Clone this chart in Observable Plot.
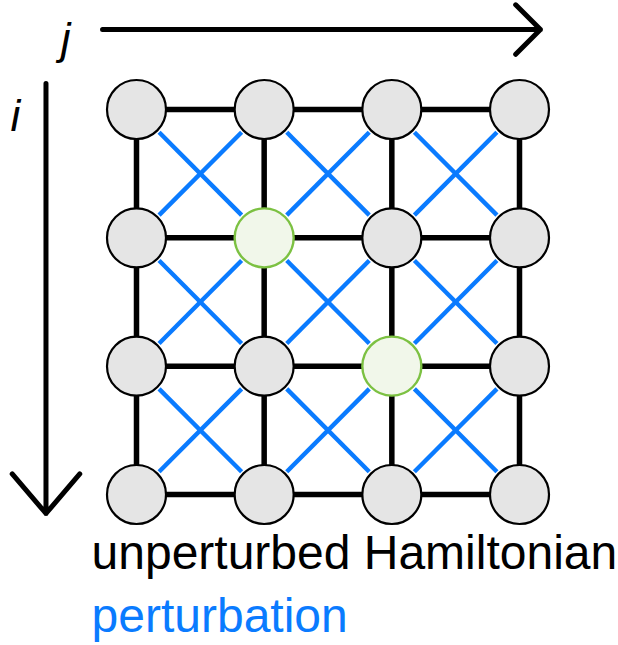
<!DOCTYPE html>
<html><head><meta charset="utf-8">
<script src="https://cdn.jsdelivr.net/npm/d3@7"></script>
<script src="https://cdn.jsdelivr.net/npm/@observablehq/plot@0.6"></script>
<style>body{margin:0;background:#fff} svg{display:block}</style>
</head><body><div id="chart"></div>
<script>
// Lattice sites (row index i, column index j)
const rows = [0, 1, 2, 3];
const cols = [0, 1, 2, 3];
// Highlighted sites [i, j]
const highlighted = [[1, 1], [2, 2]];
// Axis arrows (in lattice units)
const jArrow = [{x1: -0.266, y1: -0.623, x2: 3.164, y2: -0.623}];
const iArrow = [{x1: -0.709, y1: -0.203, x2: -0.709, y2: 3.148}];
const axisLabels = [{text: "j", x: -0.556, y: -0.429}, {text: "i", x: -0.948, y: 0.164}];
// Legend entries
const legendTexts = ["unperturbed Hamiltonian", "perturbation"];
const legendColors = ["#000000", "#0a7bff"];
const legendRows = [3.584, 4.075];
const legendCol = -0.352;

const isHi = (i, j) => highlighted.some(([a, b]) => a === i && b === j);
const nodes = [];
for (const i of rows) for (const j of cols) nodes.push({i, j, hi: isHi(i, j)});
const hEdges = [], diagEdges = [];
for (const i of rows) for (const j of cols) {
  if (j < cols.length - 1) hEdges.push({x1: j, y1: i, x2: j + 1, y2: i});
  if (i < rows.length - 1) hEdges.push({x1: j, y1: i, x2: j, y2: i + 1});
  if (i < rows.length - 1 && j < cols.length - 1) {
    diagEdges.push({x1: j, y1: i, x2: j + 1, y2: i + 1});
    diagEdges.push({x1: j + 1, y1: i, x2: j, y2: i + 1});
  }
}
const legend = legendTexts.map((t, k) => ({text: t, color: legendColors[k], y: legendRows[k], x: legendCol}));

const chart = Plot.plot({
  width: 618,
  height: 645,
  margin: 0,
  x: {domain: [0, 3], range: [136, 519], axis: null},
  y: {domain: [0, 3], range: [109, 494], axis: null},
  style: {fontFamily: "'Liberation Sans', Arial, Helvetica, sans-serif", background: "#fff"},
  marks: [
    Plot.link(hEdges, {x1: "x1", y1: "y1", x2: "x2", y2: "y2", stroke: "#000", strokeWidth: 5.5}),
    Plot.arrow(diagEdges, {x1: "x1", y1: "y1", x2: "x2", y2: "y2", stroke: "#0a7bff", strokeWidth: 4.4,
      headLength: 0, insetStart: 32, insetEnd: 32, strokeLinecap: "butt"}),
    Plot.arrow(jArrow, {x1: "x1", y1: "y1", x2: "x2", y2: "y2", stroke: "#000", strokeWidth: 5,
      headLength: 10.5, headAngle: 90, strokeLinecap: "round"}),
    Plot.arrow(iArrow, {x1: "x1", y1: "y1", x2: "x2", y2: "y2", stroke: "#000", strokeWidth: 5,
      headLength: 15.6, headAngle: 81, strokeLinecap: "round"}),
    Plot.dot(nodes.filter(d => !d.hi), {x: "j", y: "i", r: 29.5, fill: "#e5e5e5", stroke: "#000", strokeWidth: 2.2}),
    Plot.dot(nodes.filter(d => d.hi), {x: "j", y: "i", r: 29.5, fill: "#f1f7ea", stroke: "#7cc142", strokeWidth: 2.4}),
    Plot.text(axisLabels, {x: "x", y: "y", text: "text", fontSize: 44, fontStyle: "italic",
      textAnchor: "middle", lineAnchor: "bottom", fill: "#000"}),
    ...legend.map(d => Plot.text([d], {x: "x", y: "y", text: "text", fontSize: 48,
      textAnchor: "start", lineAnchor: "bottom", fill: d.color}))
  ]
});
document.getElementById("chart").appendChild(chart);
</script>
</body></html>
